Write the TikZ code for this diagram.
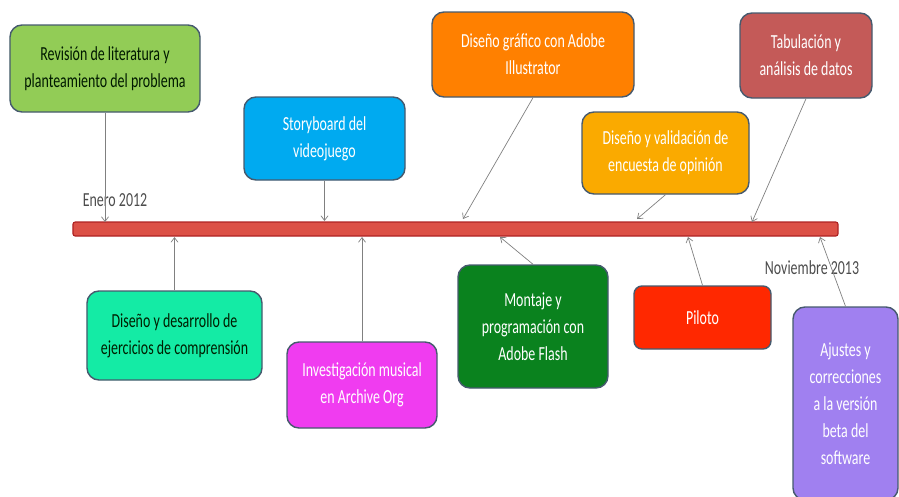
\documentclass[tikz,border=0pt]{standalone}
\usepackage{fontspec}
\setmainfont{Carlito}[FakeStretch=0.7]
\usepackage{tikz}
\usetikzlibrary{arrows.meta,positioning,calc}
\usepackage{xcolor}

\definecolor{borde}{RGB}{70,90,110}
\definecolor{verdeclaro}{RGB}{146,204,86}
\definecolor{azul}{RGB}{0,170,240}
\definecolor{naranja}{RGB}{255,128,0}
\definecolor{rosado}{RGB}{196,90,88}
\definecolor{ambar}{RGB}{250,170,0}
\definecolor{turquesa}{RGB}{20,235,165}
\definecolor{magenta2}{RGB}{240,60,240}
\definecolor{verdeosc}{RGB}{10,130,30}
\definecolor{rojo}{RGB}{255,40,0}
\definecolor{lila}{RGB}{160,128,240}
\definecolor{barra}{RGB}{220,80,70}
\definecolor{barraborde}{RGB}{175,35,35}

\begin{document}
\begin{tikzpicture}[x=0.03cm,y=-0.03cm,
  every node/.style={font=\fontsize{17}{23}\selectfont},
  caja/.style={draw=borde,line width=1.2pt,rounded corners=0.36cm,
    align=center,inner sep=2pt,text=white},
  flecha/.style={draw=gray,line width=0.6pt,-{Straight Barb[length=4pt,width=6pt]}},
  fecha/.style={text=black!70}]
  \clip (0,0) rectangle (899,496);

  % línea de tiempo
  \node[draw=barraborde,fill=barra,line width=1pt,rounded corners=2pt,
    minimum width=22.95cm,minimum height=0.42cm,inner sep=0pt] (barra) at (455.5,229) {};
  \node[fecha] (ini) at (115,200) {Enero 2012};
  \node[fecha] (fin) at (812,268) {Noviembre 2013};

  % actividades arriba
  \node[caja,fill=verdeclaro,text=black!75!green!40!black,minimum width=5.7cm,minimum height=2.61cm]
    (rev) at (105,68.5) {Revisión de literatura y\\planteamiento del problema};
  \node[caja,fill=azul,minimum width=4.83cm,minimum height=2.49cm]
    (sto) at (324.5,138.5) {Storyboard del\\videojuego};
  \node[caja,fill=naranja,minimum width=6.06cm,minimum height=2.55cm]
    (dis) at (533,54.5) {Diseño gráfico con Adobe\\Illustrator};
  \node[caja,fill=rosado,minimum width=3.96cm,minimum height=2.55cm]
    (tab) at (806,55.5) {Tabulación y\\análisis de datos};
  \node[caja,fill=ambar,minimum width=5.01cm,minimum height=2.46cm]
    (enc) at (665.5,153) {Diseño y validación de\\encuesta de opinión};

  % actividades abajo
  \node[caja,fill=turquesa,text=black!70!green!40!black,minimum width=5.25cm,minimum height=2.67cm]
    (eje) at (174.5,335.5) {Diseño y desarrollo de\\ejercicios de comprensión};
  \node[caja,fill=magenta2,minimum width=4.5cm,minimum height=2.58cm]
    (mus) at (362,385) {Investigación musical\\en Archive Org};
  \node[caja,fill=verdeosc,minimum width=4.5cm,minimum height=3.69cm]
    (mon) at (533,326.5) {Montaje y\\programación con\\Adobe Flash};
  \node[caja,fill=rojo,rounded corners=0.24cm,minimum width=4.11cm,minimum height=1.89cm]
    (pil) at (702.5,317.5) {Piloto};
  \node[caja,fill=lila,minimum width=3.15cm,minimum height=5.79cm]
    (aju) at (845.5,403.5) {Ajustes y\\correcciones\\a la versión\\beta del\\software};

  % puntos sobre la barra
  \coordinate (t1) at (105,222);
  \coordinate (t2) at (324.5,221);
  \coordinate (t3) at (463,219);
  \coordinate (t4) at (637,219);
  \coordinate (t5) at (752,222);
  \coordinate (b1) at (174.5,237);
  \coordinate (b2) at (362,237);
  \coordinate (b3) at (500,237);
  \coordinate (b4) at (688,237);
  \coordinate (b5) at (820,237);

  % flechas hacia la barra
  \foreach \a/\b in {rev.south/t1,sto.south/t2,dis.south/t3,enc.south/t4,tab.south/t5,
                     eje.north/b1,mus.north/b2,mon.north/b3,pil.north/b4,aju.north/b5}
    \draw[flecha] (\a) -- (\b);
\end{tikzpicture}
\end{document}
